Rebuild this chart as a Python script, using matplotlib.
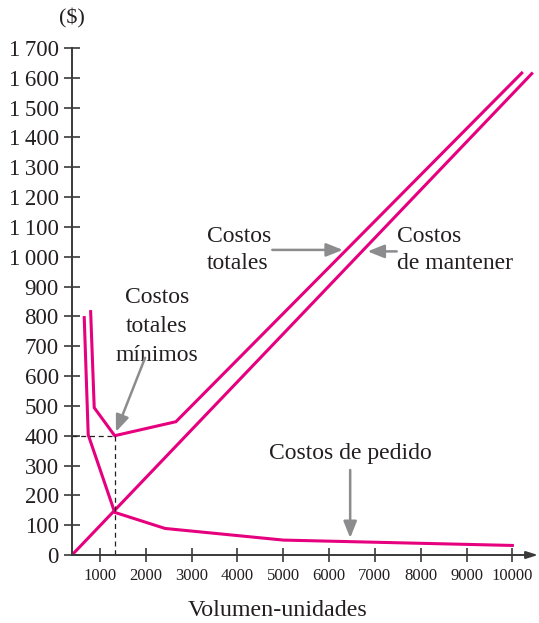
import matplotlib.pyplot as plt

# Inventory cost curves (volume in units, cost in $)
pedido_x = [655, 742, 1320, 2420, 5000, 10000]
pedido_y = [796, 403, 143, 89, 50, 32]

totales_x = [795, 873, 1320, 2657, 10205]
totales_y = [816, 494, 400, 447, 1616]

mantener_x = [388, 10424]
mantener_y = [0, 1614]

optimo_x = 1320
optimo_y = 400

y_ticks = list(range(0, 1800, 100))
y_labels = [f"{v // 1000}\u2009{v % 1000:03d}" if v >= 1000 else str(v) for v in y_ticks]
x_ticks = list(range(1000, 11000, 1000))
x_labels = [str(v) for v in x_ticks]

MAGENTA = "#e6007e"
INK = "#231f20"
AXIS = "#3a3a3a"
GREY = "#8c8c8e"

plt.rcParams["font.family"] = ["Liberation Serif", "DejaVu Serif"]

fig = plt.figure(figsize=(5.39, 6.23), dpi=100)
ax = fig.add_axes([72 / 539, 1 - 555 / 623, (538 - 72) / 539, (555 - 48) / 623])

ax.plot(pedido_x, pedido_y, color=MAGENTA, lw=2.2, solid_joinstyle="miter")
ax.plot(totales_x, totales_y, color=MAGENTA, lw=2.2, solid_joinstyle="miter")
ax.plot(mantener_x, mantener_y, color=MAGENTA, lw=2.2)

# minimum total cost guide lines
ax.plot([388, optimo_x], [optimo_y, optimo_y], color=INK, lw=0.9, ls=(0, (4, 3)))
ax.plot([optimo_x, optimo_x], [optimo_y, 0], color=INK, lw=0.9, ls=(0, (4, 3)))

ax.set_xlim(388, 10560)
ax.set_ylim(0, 1700)

for side in ["top", "right", "bottom"]:
    ax.spines[side].set_visible(False)
ax.spines["left"].set_color(AXIS)
ax.spines["left"].set_linewidth(1.4)

# x axis with arrow head
ax.annotate("", xy=(10560, 0), xytext=(388, 0),
            arrowprops=dict(arrowstyle="-|>,head_length=0.7,head_width=0.22",
                            color=AXIS, lw=1.4, shrinkA=0, shrinkB=0),
            annotation_clip=False)

ax.set_yticks(y_ticks)
ax.set_yticklabels(y_labels, fontsize=16.5, color=INK)
ax.tick_params(axis="y", direction="inout", length=11, width=1.2, color=AXIS, pad=4)

ax.set_xticks(x_ticks)
ax.set_xticklabels(x_labels, fontsize=12, color=INK)
ax.tick_params(axis="x", direction="inout", length=10, width=1.2, color=AXIS, pad=4)

ax.text(388, 1800, "($)", fontsize=16, color=INK, ha="center", va="center",
        clip_on=False)
fig.text(278 / 539, 1 - 610 / 623, "Volumen-unidades", fontsize=17.3, color=INK,
         ha="center", va="center")

arrow = dict(arrowstyle="-|>,head_length=1.0,head_width=0.4", color=GREY,
             lw=1.8, shrinkA=0, shrinkB=0)

ax.text(3330, 1023, "Costos\ntotales", fontsize=17, color=INK, ha="left",
        va="center", linespacing=1.4)
ax.annotate("", xy=(6300, 1023), xytext=(4760, 1023), arrowprops=arrow)

ax.text(7480, 1023, "Costos\nde mantener", fontsize=17, color=INK, ha="left",
        va="center", linespacing=1.4)
ax.annotate("", xy=(6840, 1018), xytext=(7476, 1018), arrowprops=arrow)

ax.text(2240, 765, "Costos\ntotales\nmínimos", fontsize=17, color=INK,
        ha="center", va="center", linespacing=1.5)
ax.annotate("", xy=(1347, 413), xytext=(1983, 661), arrowprops=arrow)

ax.text(6460, 342, "Costos de pedido", fontsize=17, color=INK, ha="center",
        va="center")
ax.annotate("", xy=(6460, 57), xytext=(6460, 285), arrowprops=arrow)

fig.savefig("out.png", dpi=100)
